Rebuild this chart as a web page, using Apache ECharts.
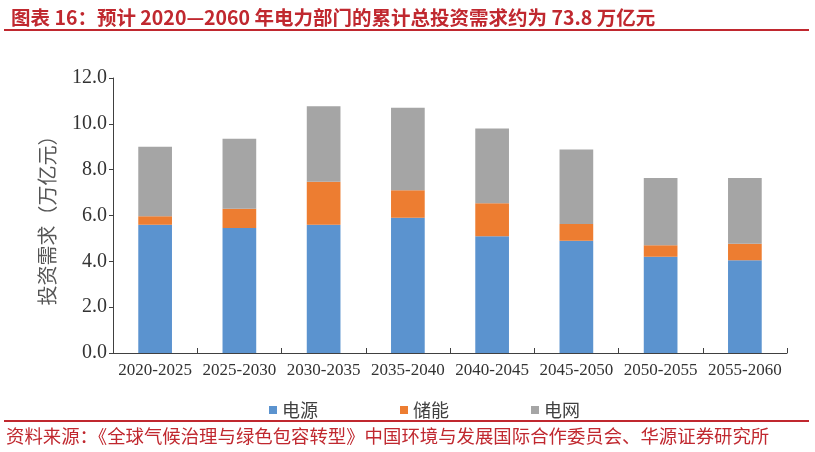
<!DOCTYPE html>
<html lang="zh">
<head>
    <meta charset="UTF-8">
    <title>电力部门累计总投资需求</title>
    <style>
        html, body { margin: 0; padding: 0; background: #fff; }
        #chart { width: 815px; height: 452px; }
    </style>
</head>
<body>
    <div id="chart"></div>
    <script src="https://cdn.jsdelivr.net/npm/echarts@6/dist/echarts.min.js"></script>
    <script>
        // 时间段
        var periods = ['2020-2025', '2025-2030', '2030-2035', '2035-2040', '2040-2045', '2045-2050', '2050-2055', '2055-2060'];
        // 各部分投资（万亿元）
        var power = [5.6, 5.45, 5.6, 5.9, 5.1, 4.9, 4.2, 4.05];
        var storage = [0.37, 0.85, 1.87, 1.2, 1.43, 0.73, 0.5, 0.72];
        var grid = [3.03, 3.05, 3.3, 3.6, 3.27, 3.25, 2.94, 2.87];
        var yTicks = { min: 0, max: 12, interval: 2 };

        var red = '#c0282f';
        var serif = '"Liberation Serif", "Times New Roman", serif';
        var cjk = '"Noto Sans CJK SC", sans-serif';

        var chart = echarts.init(document.getElementById('chart'));
        var option = {
            animation: false,
            title: {
                text: '图表 16：预计 2020—2060 年电力部门的累计总投资需求约为 73.8 万亿元',
                left: 6,
                top: 3,
                textStyle: { color: red, fontSize: 19.5, fontWeight: 'bold', fontFamily: cjk }
            },
            graphic: [
                { type: 'line', shape: { x1: 4, y1: 30, x2: 809, y2: 30 }, style: { stroke: red, lineWidth: 2 } },
                { type: 'line', shape: { x1: 4, y1: 421, x2: 809, y2: 421 }, style: { stroke: red, lineWidth: 2 } },
                {
                    type: 'text', left: 6, top: 427,
                    style: {
                        text: '资料来源：《全球气候治理与绿色包容转型》中国环境与发展国际合作委员会、华源证券研究所',
                        fill: red, font: '18.4px "Noto Sans CJK SC", sans-serif'
                    }
                }
            ],
            legend: {
                data: ['电源', '储能', '电网'],
                top: 396,
                left: 264,
                itemWidth: 8,
                itemHeight: 8,
                itemGap: 82,
                icon: 'rect',
                textStyle: { color: '#404040', fontSize: 18, fontFamily: cjk }
            },
            grid: { left: 113, right: 28, top: 78, bottom: 99, containLabel: false },
            xAxis: {
                type: 'category',
                data: periods,
                axisLine: { lineStyle: { color: '#404040', width: 1 } },
                axisTick: { show: true, inside: true, length: 5, lineStyle: { color: '#404040' } },
                axisLabel: { color: '#333', fontSize: 17, fontFamily: serif, margin: 9, interval: 0 }
            },
            yAxis: {
                type: 'value',
                min: yTicks.min,
                max: yTicks.max,
                interval: yTicks.interval,
                name: '投资需求（万亿元）',
                nameLocation: 'middle',
                nameGap: 56,
                nameRotate: 90,
                nameTextStyle: { color: '#555', fontSize: 20, fontFamily: cjk },
                axisLine: { show: true, lineStyle: { color: '#404040', width: 1 } },
                axisTick: { show: true, length: 4, lineStyle: { color: '#404040' } },
                splitLine: { show: false },
                axisLabel: {
                    color: '#333', fontSize: 20, fontFamily: serif, margin: 6,
                    formatter: function (v) { return v.toFixed(1); }
                }
            },
            series: [
                { name: '电源', type: 'bar', stack: 'total', barWidth: '40%', data: power, itemStyle: { color: '#5b93cf' } },
                { name: '储能', type: 'bar', stack: 'total', data: storage, itemStyle: { color: '#ed7d31' } },
                { name: '电网', type: 'bar', stack: 'total', data: grid, itemStyle: { color: '#a5a5a5' } }
            ]
        };
        chart.setOption(option);
    </script>
</body>
</html>
